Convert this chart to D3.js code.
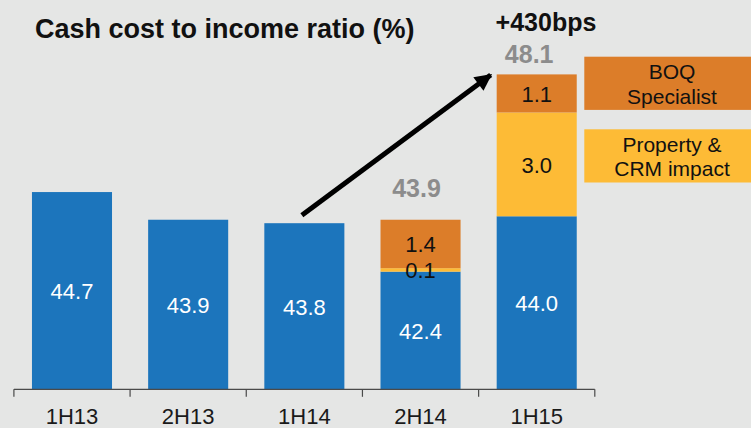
<!DOCTYPE html>
<html>
<head>
<meta charset="utf-8">
<script src="https://cdn.jsdelivr.net/npm/d3@7/dist/d3.min.js"></script>
<style>
  html, body { margin: 0; padding: 0; background: #e5e6e5; }
  svg { display: block; font-family: "Liberation Sans", Arial, sans-serif; }
</style>
</head>
<body>
<svg id="chart" width="751" height="428"></svg>
<script>
// ---- data ----
const categories = ["1H13", "2H13", "1H14", "2H14", "1H15"];
const coreValues = [44.7, 43.9, 43.8, 42.4, 44.0];
const propertyValues = [0, 0, 0, 0.1, 3.0];
const boqValues = [0, 0, 0, 1.4, 1.1];
const totalLabels = [null, null, null, "43.9", "48.1"];
const seriesNames = ["Core", "Property & CRM impact", "BOQ Specialist"];
const legendLines = [["BOQ", "Specialist"], ["Property &", "CRM impact"]];
const titleText = "Cash cost to income ratio (%)";
const changeLabel = "+430bps";

// ---- layout ----
const W = 751, H = 428;
const colors = { core: "#1c75bc", property: "#fdbb36", boq: "#dc7d29" };
const svg = d3.select("#chart");
svg.append("rect").attr("width", W).attr("height", H).attr("fill", "#e5e6e5");

const x = d3.scaleBand().domain(categories).range([13.9, 594.8]).paddingInner(0.311).paddingOuter(0.1555);
const y = d3.scaleLinear().domain([39, 48.1]).range([389.3, 74.4]);

const rows = categories.map((c, i) => ({ cat: c, core: coreValues[i], property: propertyValues[i], boq: boqValues[i] }));
const stack = d3.stack().keys(["core", "property", "boq"]);
const series = stack(rows);

const g = svg.append("g");
series.forEach(s => {
  g.selectAll(null).data(s.filter(d => d[1] - d[0] > 0)).enter().append("rect")
    .attr("x", d => x(d.data.cat))
    .attr("width", x.bandwidth())
    .attr("y", d => y(d[1]))
    .attr("height", d => y(d[0] === 0 ? 39 : d[0]) - y(d[1]))
    .attr("fill", colors[s.key]);
});

// segment labels
series.forEach(s => {
  g.selectAll(null).data(s.filter(d => d[1] - d[0] > 0)).enter().append("text")
    .attr("x", d => x(d.data.cat) + x.bandwidth() / 2)
    .attr("y", d => {
      const lo = d[0] === 0 ? 39 : d[0];
      return (y(lo) + y(d[1])) / 2 + 8.3;
    })
    .attr("text-anchor", "middle")
    .attr("font-size", 22)
    .attr("fill", s.key === "core" ? "#ffffff" : "#111111")
    .text(d => (d[1] - d[0]).toFixed(1));
});

// totals
const totalOffsets = [0, 0, 0, -4, -7.5];
const totalGap = [0, 0, 0, 23, 11];
categories.forEach((c, i) => {
  if (!totalLabels[i]) return;
  const top = coreValues[i] + propertyValues[i] + boqValues[i];
  svg.append("text")
    .attr("x", x(c) + x.bandwidth() / 2 + totalOffsets[i])
    .attr("y", y(top) - totalGap[i])
    .attr("text-anchor", "middle")
    .attr("font-size", 25).attr("font-weight", "bold")
    .attr("fill", "#8c8c8c")
    .text(totalLabels[i]);
});

// axis
const axisG = svg.append("g").attr("transform", `translate(0,${y(39)})`);
axisG.call(d3.axisBottom(x).tickSize(0).tickPadding(0));
axisG.select(".domain").attr("stroke", "#4a4a4a").attr("stroke-width", 1.2).attr("d", `M${x.range()[0]},0H${x.range()[1]}`);
axisG.selectAll(".tick text").attr("font-size", 22).attr("fill", "#1a1a1a")
  .attr("font-family", "Liberation Sans, Arial, sans-serif").attr("dy", null).attr("y", 35);
const bounds = d3.range(categories.length + 1).map(i => x.range()[0] + i * x.step());
axisG.selectAll("line.bt").data(bounds).enter().append("line").attr("class", "bt")
  .attr("x1", d => d).attr("x2", d => d).attr("y1", 0).attr("y2", 7.5)
  .attr("stroke", "#4a4a4a").attr("stroke-width", 1.2);

// title
svg.append("text").attr("x", 35).attr("y", 38.3)
  .attr("font-size", 27).attr("font-weight", "bold").attr("fill", "#111")
  .text(titleText);

// change label
svg.append("text").attr("x", 546).attr("y", 30.7).attr("text-anchor", "middle")
  .attr("font-size", 25).attr("font-weight", "bold").attr("fill", "#111")
  .text(changeLabel);

// arrow
const defs = svg.append("defs");
defs.append("marker").attr("id", "ah").attr("viewBox", "0 0 10 10").attr("refX", 9).attr("refY", 5)
  .attr("markerWidth", 3.6).attr("markerHeight", 3.4).attr("orient", "auto").attr("markerUnits", "strokeWidth")
  .append("path").attr("d", "M0,0L10,5L0,10z").attr("fill", "#000");
const x0 = x("1H14") + x.bandwidth() / 2 - 2.5, y0 = y(coreValues[2]) - 8;
const x1 = x("1H15") - 6, y1 = y(48.1) + 0.5;
svg.append("line").attr("x1", x0).attr("y1", y0).attr("x2", x1).attr("y2", y1)
  .attr("stroke", "#000").attr("stroke-width", 5).attr("marker-end", "url(#ah)");

// legend boxes
const legendColors = [colors.boq, colors.property];
const legendTops = [56.7, 129.3];
legendLines.forEach((lines, i) => {
  svg.append("rect").attr("x", 584.3).attr("y", legendTops[i]).attr("width", 180).attr("height", 53.2)
    .attr("fill", legendColors[i]);
  lines.forEach((t, j) => {
    svg.append("text").attr("x", 672).attr("y", legendTops[i] + 22.6 + j * 24.3)
      .attr("text-anchor", "middle").attr("font-size", 21).attr("fill", "#111").text(t);
  });
});
</script>
</body>
</html>
